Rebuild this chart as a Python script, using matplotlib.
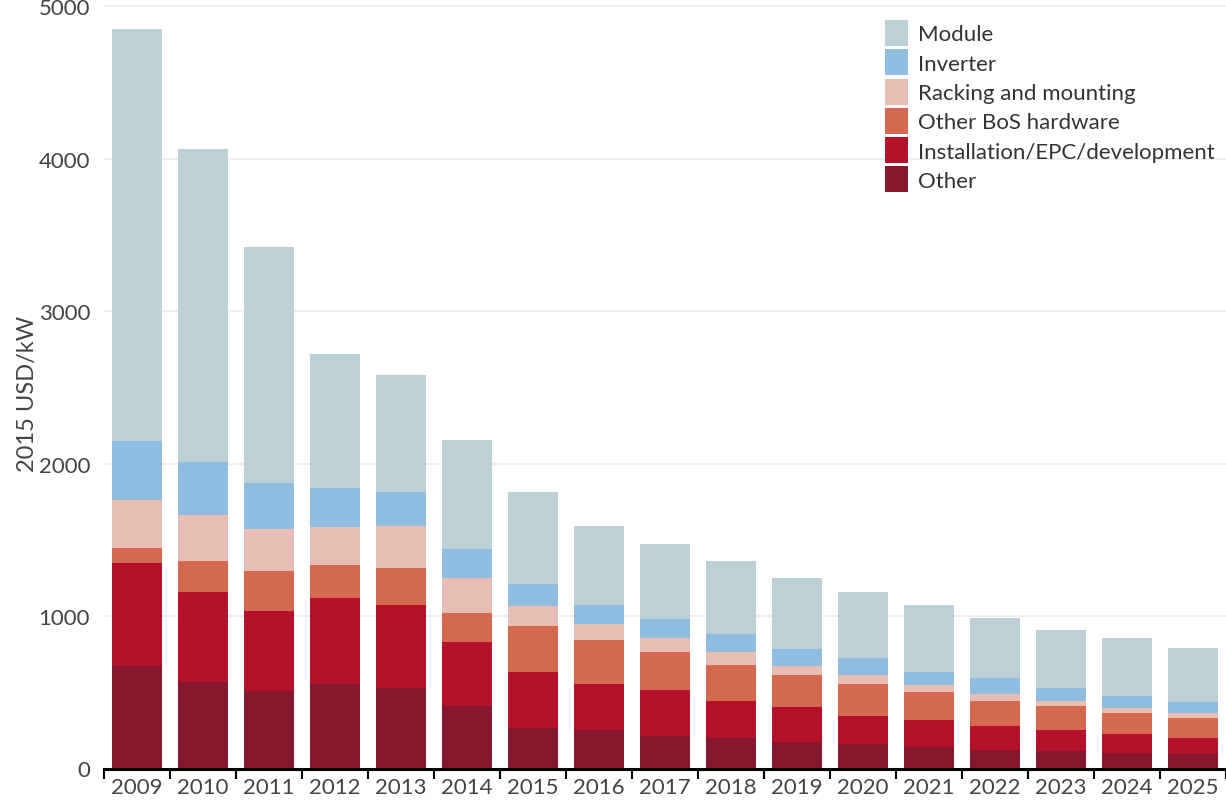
import matplotlib
matplotlib.use("Agg")
import matplotlib.pyplot as plt
from matplotlib.patches import Patch
import numpy as np

plt.rcParams['font.family'] = ['Lato', 'DejaVu Sans']

years = ['2009', '2010', '2011', '2012', '2013', '2014', '2015', '2016', '2017',
         '2018', '2019', '2020', '2021', '2022', '2023', '2024', '2025']

# stacked from the bottom up, USD/kW
other = [674, 569, 508, 554, 530, 412, 264, 252, 211, 200, 172, 161, 139, 121, 113, 102, 95]
installation = [674, 590, 525, 562, 544, 415, 371, 302, 304, 245, 231, 185, 181, 160, 139, 124, 103]
other_bos = [96, 200, 260, 220, 243, 191, 301, 291, 247, 234, 210, 208, 180, 164, 156, 138, 135]
racking = [319, 303, 277, 250, 273, 231, 132, 103, 92, 83, 61, 59, 48, 44, 37, 33, 29]
inverter = [387, 346, 300, 255, 223, 190, 142, 126, 126, 120, 110, 110, 87, 106, 81, 76, 72]
module = [2700, 2054, 1548, 879, 769, 717, 605, 518, 490, 479, 465, 432, 437, 394, 384, 381, 354]

series = [other, installation, other_bos, racking, inverter, module]
names = ['Other', 'Installation/EPC/development', 'Other BoS hardware',
         'Racking and mounting', 'Inverter', 'Module']
colors = ['#86172f', '#b3122a', '#d5694f', '#e8bdb4', '#8fbde0', '#bcd0d6']

fig = plt.figure(figsize=(12.26, 8.04), dpi=100)
ax = fig.add_axes([104 / 1226, (804 - 769.5) / 804, 1122 / 1226, 769.5 / 804])

x = np.arange(len(years))
bottom = np.zeros(len(years))
for vals, c in zip(series, colors):
    ax.bar(x, vals, width=0.77, bottom=bottom, color=c, zorder=2)
    bottom += np.array(vals)

ax.set_xlim(-0.5, len(years) - 0.5)
ax.set_ylim(0, 5046)
ax.set_yticks([0, 1000, 2000, 3000, 4000, 5000])
ax.set_yticklabels(['0', '1000', '2000', '3000', '4000', '5000'])
ax.yaxis.grid(True, color='#ececec', linewidth=1.2, zorder=0)
ax.set_axisbelow(True)

ax.set_xticks(x)
ax.set_xticklabels(years)
ax.set_xticks(np.arange(-0.5, len(years), 1), minor=True)
ax.tick_params(axis='x', which='major', length=0, labelsize=16, labelcolor='#444444', pad=6)
ax.tick_params(axis='x', which='minor', length=7, width=1.5, color='black', direction='out')
ax.tick_params(axis='y', length=0, labelsize=16, labelcolor='#444444', pad=10)

for s in ['top', 'right', 'left']:
    ax.spines[s].set_visible(False)
ax.spines['bottom'].set_linewidth(2.2)
ax.spines['bottom'].set_color('black')

ax.set_ylabel('2015 USD/kW', fontsize=17, color='#444444', va='center')
ax.yaxis.set_label_coords(-0.068, 0.488)

handles = [Patch(facecolor=c, label=n) for c, n in zip(colors[::-1], names[::-1])]
fig.legend(handles=handles, loc='upper left', bbox_to_anchor=(885 / 1226, 1 - 21 / 804),
           frameon=False, fontsize=16, handlelength=1.05, handleheight=1.42,
           labelspacing=0.15, handletextpad=0.45, borderpad=0, borderaxespad=0,
           labelcolor='#333333')

fig.savefig('out.png', dpi=100)
